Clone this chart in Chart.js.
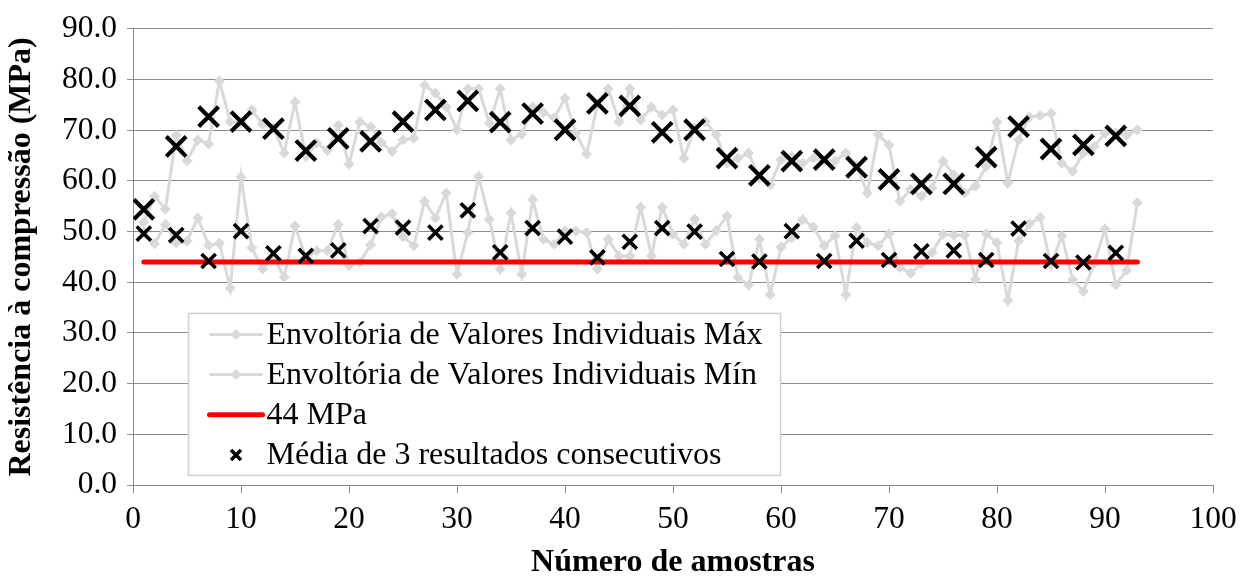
<!DOCTYPE html>
<html lang="pt">
<head>
  <meta charset="UTF-8">
  <title>Resistência à compressão</title>
  <script src="https://cdn.jsdelivr.net/npm/chart.js"></script>
  <style>
    body { margin: 0; background: #fff; }
  </style>
</head>
<body>
  <canvas id="chart" width="1249" height="578"></canvas>

  <script>
    // envoltória dos valores individuais (amostras 1..93)
    const valoresMax = [
      51.8, 57.0, 54.4, 69.0, 64.0, 68.1, 67.3, 79.7, 71.7, 71.5,
      74.0, 71.2, 70.5, 65.5, 75.6, 64.8, 67.5, 66.0, 71.0, 63.3,
      71.7, 70.7, 67.6, 65.8, 68.1, 68.4, 78.9, 77.3, 74.6, 70.1,
      78.2, 78.2, 71.4, 78.2, 68.1, 69.2, 74.6, 73.5, 72.4, 76.3,
      69.4, 65.3, 75.0, 78.2, 71.7, 78.2, 72.0, 74.6, 73.0, 74.0,
      64.5, 70.5, 71.7, 69.1, 63.5, 64.5, 65.5, 60.6, 59.3, 64.2,
      64.8, 63.5, 64.5, 64.0, 63.9, 65.5, 63.0, 57.6, 69.1, 67.1,
      56.0, 58.3, 57.0, 58.6, 63.9, 61.2, 57.6, 59.0, 62.9, 71.6,
      59.6, 68.1, 72.6, 72.9, 73.3, 63.5, 61.9, 65.5, 66.8, 69.4,
      69.5, 69.0, 70.1
    ];
    const valoresMin = [
      49.8, 47.6, 51.4, 47.8, 48.1, 52.7, 47.3, 47.7, 38.8, 60.8,
      46.8, 42.6, 45.0, 41.0, 51.1, 44.9, 46.2, 46.2, 51.4, 43.3,
      43.9, 47.4, 52.9, 53.5, 49.0, 47.2, 56.0, 52.7, 57.6, 41.6,
      49.8, 60.9, 52.4, 42.6, 53.7, 41.6, 56.3, 48.5, 47.5, 50.1,
      50.1, 49.8, 42.6, 48.5, 45.2, 45.2, 54.8, 45.2, 54.8, 49.5,
      47.5, 52.5, 47.5, 50.2, 53.1, 41.0, 39.4, 48.5, 37.6, 46.9,
      48.8, 52.4, 50.9, 47.2, 49.2, 37.6, 50.8, 47.8, 47.2, 49.6,
      42.9, 41.8, 43.6, 45.9, 49.5, 49.3, 49.3, 40.6, 49.6, 47.8,
      36.4, 48.2, 51.5, 52.8, 43.4, 49.2, 40.5, 38.2, 43.7, 50.5,
      39.5, 42.4, 55.7
    ];

    // média de 3 resultados consecutivos
    const amostrasMedia = [1, 4, 7, 10, 13, 16, 19, 22, 25, 28, 31, 34, 37, 40, 43, 46,
                           49, 52, 55, 58, 61, 64, 67, 70, 73, 76, 79, 82, 85, 88, 91];
    const mediaMax = [54.4, 66.8, 72.7, 71.7, 70.3, 66.0, 68.4, 67.8, 71.7, 74.0, 75.8,
                      71.6, 73.3, 70.1, 75.3, 74.8, 69.6, 70.1, 64.5, 61.1, 63.9, 64.2,
                      62.7, 60.3, 59.4, 59.4, 64.7, 70.7, 66.3, 67.1, 68.9];
    const mediaMin = [49.6, 49.3, 44.2, 50.1, 45.7, 45.2, 46.3, 51.1, 50.8, 49.8, 54.2,
                      45.9, 50.7, 49.0, 44.9, 48.0, 50.7, 50.0, 44.6, 44.1, 50.1, 44.2,
                      48.2, 44.4, 46.1, 46.3, 44.4, 50.6, 44.2, 43.9, 45.8];

    // linha de referência 44 MPa
    const limiteX = [1, 93];
    const limiteValor = 44;

    const xTicks = { min: 0, max: 100, step: 10 };
    const yTicks = { min: 0, max: 90, step: 10 };

    const fonte = "'Liberation Serif', 'Times New Roman', serif";
    const cinza = '#d9d9d9';
    const grade = '#8c8c8c';

    const pts = (xs, ys) => ys.map((y, i) => ({ x: xs[i], y: y }));
    const amostras = valoresMax.map((_, i) => i + 1);

    // legenda desenhada dentro da área do gráfico, como no Excel
    const legendaPlugin = {
      id: 'legendaInterna',
      afterDraw(chart) {
        const ctx = chart.ctx;
        const ca = chart.chartArea;
        const box = { x: ca.left + 55.5, y: ca.top + 284.5, w: 592, h: 162 };
        ctx.save();
        ctx.fillStyle = '#fff';
        ctx.fillRect(box.x, box.y, box.w, box.h);
        ctx.strokeStyle = '#d0d0d0';
        ctx.lineWidth = 1.5;
        ctx.strokeRect(box.x, box.y, box.w, box.h);

        const itens = chart.data.datasets.filter(d => !d.semLegenda);
        const ordem = ['max', 'min', 'ref', 'media'];
        ordem.forEach((k, i) => {
          const d = itens.find(ds => ds.chave === k);
          const cy = box.y + 21 + i * 40.2;
          const x0 = box.x + 21, x1 = box.x + 74, xm = (x0 + x1) / 2;
          if (k === 'max' || k === 'min') {
            ctx.strokeStyle = cinza; ctx.lineWidth = 3;
            ctx.beginPath(); ctx.moveTo(x0, cy); ctx.lineTo(x1, cy); ctx.stroke();
            ctx.fillStyle = cinza;
            ctx.beginPath();
            ctx.moveTo(xm, cy - 5.5); ctx.lineTo(xm + 5.5, cy);
            ctx.lineTo(xm, cy + 5.5); ctx.lineTo(xm - 5.5, cy);
            ctx.closePath(); ctx.fill();
          } else if (k === 'ref') {
            ctx.strokeStyle = '#ff0000'; ctx.lineWidth = 5; ctx.lineCap = 'round';
            ctx.beginPath(); ctx.moveTo(x0, cy); ctx.lineTo(x1, cy); ctx.stroke();
            ctx.lineCap = 'butt';
          } else {
            ctx.strokeStyle = '#000'; ctx.lineWidth = 3.5;
            ctx.beginPath();
            ctx.moveTo(xm - 5, cy - 5); ctx.lineTo(xm + 5, cy + 5);
            ctx.moveTo(xm + 5, cy - 5); ctx.lineTo(xm - 5, cy + 5);
            ctx.stroke();
          }
          ctx.fillStyle = '#000';
          ctx.font = '32px ' + fonte;
          ctx.textBaseline = 'middle';
          ctx.textAlign = 'left';
          ctx.fillText(d.label, x1 + 4, cy + 1);
        });
        ctx.restore();
      }
    };

    new Chart(document.getElementById('chart'), {
      type: 'line',
      data: {
        datasets: [
          {
            label: 'Média de 3 resultados consecutivos', chave: 'media',
            data: pts(amostrasMedia, mediaMax),
            showLine: false, pointStyle: 'crossRot', pointRadius: 14,
            pointBorderWidth: 4.2, pointBorderColor: '#000', borderColor: '#000'
          },
          {
            label: 'Média mín', semLegenda: true,
            data: pts(amostrasMedia, mediaMin),
            showLine: false, pointStyle: 'crossRot', pointRadius: 10,
            pointBorderWidth: 3.6, pointBorderColor: '#000', borderColor: '#000'
          },
          {
            label: '44 MPa', chave: 'ref',
            data: limiteX.map(x => ({ x: x, y: limiteValor })),
            borderColor: '#ff0000', borderWidth: 5, borderCapStyle: 'round',
            pointRadius: 0
          },
          {
            label: 'Envoltória de Valores Individuais Máx', chave: 'max',
            data: pts(amostras, valoresMax),
            borderColor: cinza, borderWidth: 3, pointStyle: 'rectRot',
            pointRadius: 5.5, pointBackgroundColor: cinza, pointBorderWidth: 0
          },
          {
            label: 'Envoltória de Valores Individuais Mín', chave: 'min',
            data: pts(amostras, valoresMin),
            borderColor: cinza, borderWidth: 3, pointStyle: 'rectRot',
            pointRadius: 5.5, pointBackgroundColor: cinza, pointBorderWidth: 0
          }
        ]
      },
      options: {
        responsive: false,
        animation: false,
        events: [],
        layout: { padding: { top: 23, right: 36, left: 0, bottom: 0 } },
        plugins: { legend: { display: false }, tooltip: { enabled: false } },
        scales: {
          x: {
            type: 'linear', min: xTicks.min, max: xTicks.max,
            afterFit: s => { s.height = 93; },
            ticks: { stepSize: xTicks.step, color: '#000', padding: 8,
                     font: { family: fonte, size: 31.5 } },
            grid: { drawOnChartArea: false, drawTicks: true, tickLength: 8, color: grade },
            border: { display: true, color: grade, width: 1 },
            title: { display: true, text: 'Número de amostras', color: '#000',
                     padding: { top: 0, bottom: -1 },
                     font: { family: fonte, size: 32, weight: 'bold', lineHeight: 1 } }
          },
          y: {
            min: yTicks.min, max: yTicks.max,
            afterFit: s => { s.width = 133; },
            ticks: { stepSize: yTicks.step, color: '#000', padding: 10,
                     font: { family: fonte, size: 31.5 },
                     callback: v => v.toFixed(1) },
            grid: { color: grade, lineWidth: 1, tickLength: 6 },
            border: { display: true, color: grade, width: 1 },
            title: { display: true, text: 'Resistência à compressão (MPa)', color: '#000',
                     padding: { top: 6, bottom: 0 },
                     font: { family: fonte, size: 32, weight: 'bold', lineHeight: 1 } }
          }
        }
      },
      plugins: [legendaPlugin]
    });
  </script>
</body>
</html>
